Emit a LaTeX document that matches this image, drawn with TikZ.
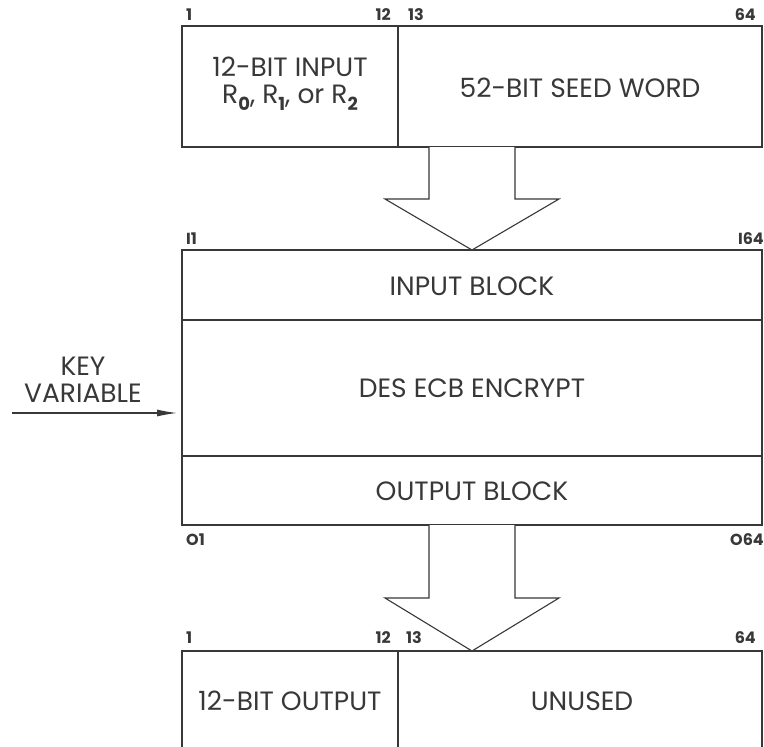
\documentclass[tikz,border=0pt]{standalone}
\usepackage{fontspec}
\setmainfont{Poppins}
\usetikzlibrary{arrows.meta,calc}
\definecolor{ink}{gray}{0.22}
\tikzset{
  box/.style={draw=ink, line width=1.3pt, inner sep=0pt, outer sep=0pt},
  lbl/.style={font=\fontsize{26.5}{27}\selectfont, text=ink, inner sep=0pt},
  num/.style={font=\fontsize{16}{18}\selectfont\bfseries, text=ink, inner sep=0pt},
  blockarrow/.style={draw=ink, line width=1.1pt, line join=miter, fill=white},
}
\newcommand{\sbs}[1]{\raisebox{-0.5ex}{\fontsize{18}{18}\selectfont\bfseries #1}}
\begin{document}
\begin{tikzpicture}[x=1pt,y=-1pt]
\useasboundingbox (0,0) rectangle (764,747);
% top boxes
\node[box, minimum width=216pt, minimum height=121pt] (tin) at (290,86.5) {};
\node[box, minimum width=364pt, minimum height=121pt] (seed) at (580,86.5) {};
\node[lbl, align=center] (tint) at (290,84) {12-BIT INPUT\\R\sbs{0}, R\sbs{1}, or R\sbs{2}};
\node[lbl] (seedt) at (580,88) {52-BIT SEED WORD};
\node[num, anchor=base west] (n1a) at (186,20) {1};
\node[num, anchor=base east] (n12a) at (391,20) {12};
\node[num, anchor=base west] (n13a) at (408,20) {13};
\node[num, anchor=base east] (n64a) at (756,20) {64};
% middle box
\node[box, minimum width=580pt, minimum height=70pt] (ib) at (472,285) {};
\node[box, minimum width=580pt, minimum height=136pt] (des) at (472,388) {};
\node[box, minimum width=580pt, minimum height=69pt] (ob) at (472,490.5) {};
\node[lbl] (ibt) at (472,286) {INPUT BLOCK};
\node[lbl] (dest) at (472,388) {DES ECB ENCRYPT};
\node[lbl] (obt) at (472,491) {OUTPUT BLOCK};
\node[num, anchor=base west] (i1) at (186,244) {I1};
\node[num, anchor=base east] (i64) at (764,244) {I64};
\node[num, anchor=base west] (o1) at (186,545) {O1};
\node[num, anchor=base east] (o64) at (764,545) {O64};
% key variable
\node[lbl, align=center] (kv) at (83,380) {KEY\\VARIABLE};
\coordinate (kstart) at (12,413);
\draw[ink, line width=1.1pt, -{Latex[length=20pt,width=7pt]}] (kstart) -- ($(des.west |- kstart)+(-5,0)$);
% block arrow 1
\coordinate (a1t) at (seed.south -| ib.north);
\draw[blockarrow] ($(a1t)+(-43,0)$) -- ($(a1t)+(-43,52)$) -- ($(a1t)+(-87,52)$) -- (ib.north) -- ($(a1t)+(87,52)$) -- ($(a1t)+(43,52)$) -- ($(a1t)+(43,0)$);
% bottom box (open at the bottom)
\coordinate (bl) at (182,651);
\coordinate (bm) at (398,651);
\coordinate (br) at (762,651);
\draw[ink, line width=1.3pt] (182,760) -- (bl) -- (br) -- (762,760);
\draw[ink, line width=1.3pt] (bm) -- (398,760);
\node[lbl] (outt) at (290,701) {12-BIT OUTPUT};
\node[lbl] (unt) at (582,701) {UNUSED};
\node[num, anchor=base west] (n1b) at (186,643) {1};
\node[num, anchor=base east] (n12b) at (391,643) {12};
\node[num, anchor=base west] (n13b) at (406,643) {13};
\node[num, anchor=base east] (n64b) at (756,643) {64};
% block arrow 2
\coordinate (a2t) at (ob.south);
\coordinate (a2e) at (ob.south |- bl);
\draw[blockarrow] ($(a2t)+(-43,0)$) -- ($(a2t)+(-43,73)$) -- ($(a2t)+(-87,73)$) -- (a2e) -- ($(a2t)+(87,73)$) -- ($(a2t)+(43,73)$) -- ($(a2t)+(43,0)$);
\end{tikzpicture}
\end{document}
